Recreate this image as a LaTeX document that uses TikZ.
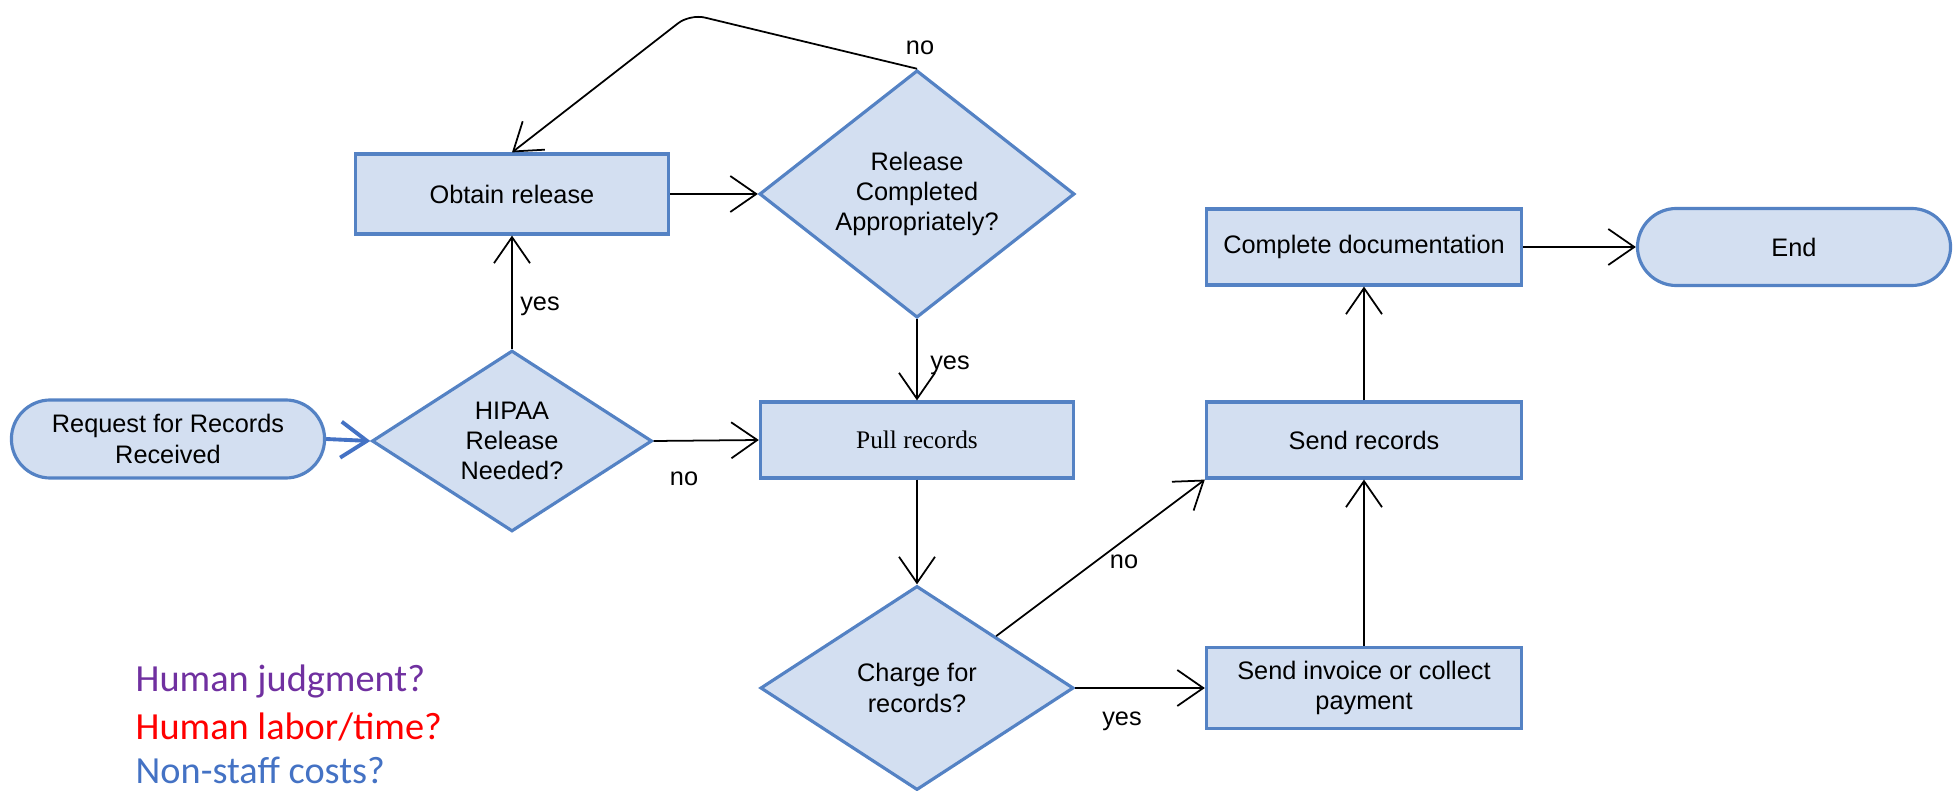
\documentclass[tikz,border=0pt]{standalone}
\usepackage{fontspec}
\setmainfont{Liberation Sans}
\newfontfamily\pullfont{Liberation Serif}
\newfontfamily\legendfont{Carlito}
\usetikzlibrary{shapes.geometric,arrows.meta}

\definecolor{boxfill}{RGB}{211,223,241}
\definecolor{boxline}{RGB}{84,130,196}
\definecolor{startline}{RGB}{68,114,196}
\definecolor{judgecol}{RGB}{112,48,160}
\definecolor{laborcol}{RGB}{255,0,0}
\definecolor{costcol}{RGB}{68,114,196}

\tikzset{
  process/.style={draw=boxline, fill=boxfill, line width=0.9pt,
    minimum width=3.13cm, minimum height=0.78cm, inner sep=0pt, align=center},
  terminal/.style={process, rounded corners=0.39cm},
  decision/.style={diamond, draw=boxline, fill=boxfill, line width=0.9pt,
    inner sep=0pt, align=center},
  flow/.style={-{Straight Barb[length=2.6mm,width=3.6mm]}, line width=0.5pt},
  lbl/.style={inner sep=0pt},
  legend/.style={anchor=west, inner sep=0pt, font=\legendfont\fontsize{10.9}{13}\selectfont}
}

\begin{document}
\begin{tikzpicture}[x=0.01cm, y=-0.01cm, font=\fontsize{7.2}{8.6}\selectfont]
    \useasboundingbox (0,0) rectangle (1960,791);

    % shapes
    \node[terminal] (request) at (168,439) {Request for Records\\Received};
    \node[decision, minimum width=2.8cm, minimum height=1.58cm] (hipaa) at (512,441) {HIPAA\\Release\\Needed?};
    \node[process, minimum height=0.8cm] (obtain) at (512,194) {Obtain release};
    \node[decision, minimum width=3.15cm, minimum height=1.98cm] (relcheck) at (917,194) {Release\\Completed\\Appropriately?};
    \node[process, minimum height=0.76cm] (pull) at (917,440) {\pullfont Pull records};
    \node[decision, minimum width=3.13cm, minimum height=2.04cm] (charge) at (917,688) {Charge for\\records?};
    \node[process, minimum width=3.15cm, minimum height=0.81cm] (invoice) at (1364,688) {Send invoice or collect\\payment};
    \node[process, minimum width=3.15cm, minimum height=0.76cm] (sendrec) at (1364,440) {Send records};
    \node[process, minimum width=3.15cm, minimum height=0.76cm] (compdoc) at (1364,247) {Complete documentation};
    \node[terminal, minimum height=0.77cm] (finish) at (1794,247) {End};

    \coordinate (loopbend) at (690,14);

    % connectors
    \draw[flow, draw=startline, line width=1.1pt] (request.east) -- (hipaa.west);
    \draw[flow] (hipaa.north) -- (obtain.south);
    \draw[flow] (hipaa.east) -- (pull.west);
    \draw[flow] (obtain.east) -- (relcheck.west);
    \draw[flow, rounded corners=1.5mm] (relcheck.north) -- (loopbend) -- (obtain.north);
    \draw[flow] (relcheck.south) -- (pull.north);
    \draw[flow] (pull.south) -- (charge.north);
    \draw[flow] (charge.east) -- (invoice.west);
    \draw[flow] (charge.north east) -- (sendrec.south west);
    \draw[flow] (invoice.north) -- (sendrec.south);
    \draw[flow] (sendrec.north) -- (compdoc.south);
    \draw[flow] (compdoc.east) -- (finish.west);

    % branch labels
    \node[lbl] (noloop) at (920,48) {no};
    \node[lbl] (yesobtain) at (540,306) {yes};
    \node[lbl] (yespull) at (950,365) {yes};
    \node[lbl] (nopull) at (684,479) {no};
    \node[lbl] (nosend) at (1124,562) {no};
    \node[lbl] (yesinvoice) at (1122,721) {yes};

    % legend
    \node[legend, text=judgecol] (judgment) at (135,681) {Human judgment?};
    \node[legend, text=laborcol] (labor) at (135,727) {Human labor/time?};
    \node[legend, text=costcol] (costs) at (135,770) {Non-staff costs?};
\end{tikzpicture}
\end{document}
